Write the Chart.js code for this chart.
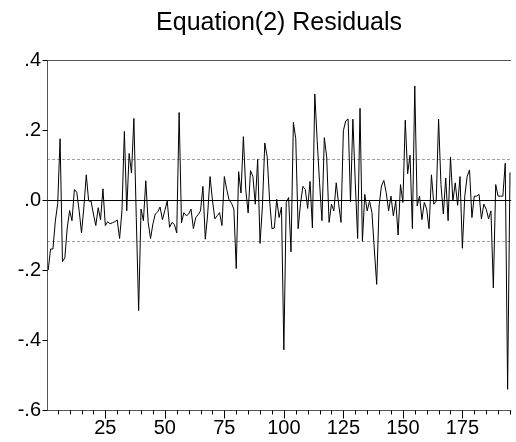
<!DOCTYPE html>
<html>
<head>
<meta charset="utf-8">
<script src="https://cdn.jsdelivr.net/npm/chart.js@4.4.0/dist/chart.umd.min.js"></script>
<style>
html, body { margin: 0; padding: 0; background: #fff; }
#wrap { width: 516px; height: 442px; }
</style>
</head>
<body>
<div id="wrap"><canvas id="chart_Resid" width="516" height="442"></canvas></div>
<script>
// residuals, obs 1..195
var residuals = [
  -0.200, -0.140, -0.140, -0.060, -0.010,  0.175, -0.176, -0.165, -0.080, -0.030,
  -0.059,  0.030,  0.022, -0.030, -0.094, -0.020,  0.072, -0.003, -0.003, -0.040,
  -0.073, -0.022, -0.056,  0.032, -0.073, -0.062, -0.068, -0.065, -0.062, -0.057,
  -0.110, -0.030,  0.196, -0.031,  0.133,  0.077,  0.233, -0.050, -0.316, -0.026,
  -0.059,  0.055, -0.064, -0.110, -0.068, -0.040, -0.034, -0.020, -0.056, -0.030,
  -0.003, -0.078, -0.064, -0.070, -0.094,  0.250, -0.065, -0.036, -0.045, -0.040,
  -0.026, -0.082, -0.050, -0.042, -0.031,  0.039, -0.112, -0.040,  0.067,  0.000,
  -0.054, -0.045, -0.036, -0.073,  0.067,  0.030,  0.000, -0.009, -0.026, -0.196,
   0.081,  0.020,  0.181,  0.030, -0.037,  0.084,  0.067, -0.012,  0.116, -0.124,
  -0.017,  0.163,  0.123,  0.000, -0.082, -0.080,  0.002, -0.050, -0.020, -0.428,
  -0.007,  0.007, -0.148,  0.222,  0.175, -0.082, -0.010,  0.039,  0.030, -0.024,
   0.053, -0.080,  0.303,  0.170,  0.050, -0.059,  0.178,  0.123, -0.064, -0.012,
  -0.031,  0.049, -0.010, -0.064,  0.198,  0.226,  0.231, -0.006,  0.231,  0.050,
  -0.110,  0.262, -0.118,  0.016, -0.031, -0.003, -0.036, -0.140, -0.241, -0.017,
   0.040,  0.056,  0.021, -0.031,  0.011, -0.045, -0.003, -0.100,  0.044, -0.007,
   0.228,  0.075,  0.128, -0.082,  0.326, -0.017,  0.011, -0.056, -0.007, -0.026,
  -0.082,  0.072, -0.012, -0.003,  0.231,  0.044, -0.040,  0.063, -0.059,  0.123,
  -0.003,  0.049, -0.015,  0.067, -0.138,  0.011,  0.067,  0.086, -0.050,  0.011,
   0.011,  0.016, -0.054, -0.012, -0.026, -0.054, -0.031, -0.251,  0.044,  0.011,
   0.011,  0.011,  0.105, -0.541,  0.079
];
var bandLevels = [0.116, -0.116];
var yTickValues = [0.4, 0.2, 0, -0.2, -0.4, -0.6];
var xLabelValues = [25, 50, 75, 100, 125, 150, 175];
var xMinorTicks = [5,10,15,20,25,30,35,40,45,50,55,60,65,70,75,80,85,90,95,100,
  105,110,115,120,125,130,135,140,145,150,155,160,165,170,175,180,185,190,195];
var chartTitle = 'Equation(2) Residuals';

var FONT = "'Liberation Sans', Arial, Helvetica, sans-serif";

function fmtY(v) {
  if (Math.abs(v) < 1e-9) return '.0';
  var s = Math.abs(v).toFixed(1).replace(/^0/, '');
  return (v < 0 ? '-' : '') + s;
}

var residFrame = {
  id: 'residFrame',
  beforeDatasetsDraw: function (chart) {
    var ctx = chart.ctx, a = chart.chartArea, ys = chart.scales.y;
    ctx.save();
    ctx.lineWidth = 1;
    ctx.strokeStyle = '#a0a0a0';
    ctx.setLineDash([3, 2]);
    bandLevels.forEach(function (v) {
      var py = Math.round(ys.getPixelForValue(v)) + 0.5;
      ctx.beginPath(); ctx.moveTo(a.left, py); ctx.lineTo(a.right, py); ctx.stroke();
    });
    ctx.setLineDash([]);
    ctx.strokeStyle = '#000';
    var p0 = Math.round(ys.getPixelForValue(0)) + 0.5;
    ctx.beginPath(); ctx.moveTo(a.left, p0); ctx.lineTo(a.right, p0); ctx.stroke();
    ctx.restore();
  },
  afterDraw: function (chart) {
    var ctx = chart.ctx, a = chart.chartArea, xs = chart.scales.x, ys = chart.scales.y;
    ctx.save();
    // title, centred over the plot box like EViews does
    ctx.fillStyle = '#000';
    ctx.font = '25px ' + FONT;
    ctx.textAlign = 'center';
    ctx.textBaseline = 'middle';
    ctx.fillText(chartTitle, (a.left + a.right) / 2, 23);

    ctx.lineWidth = 1;
    ctx.strokeStyle = '#555';
    var L = Math.round(a.left) + 0.5, T = Math.round(a.top) + 0.5, B = Math.round(a.bottom) + 0.5;
    ctx.beginPath();
    ctx.moveTo(a.right, T); ctx.lineTo(L, T); ctx.lineTo(L, B); ctx.lineTo(a.right, B);
    ctx.stroke();
    ctx.strokeStyle = '#000';
    ctx.beginPath();
    yTickValues.forEach(function (v) {
      var py = Math.round(ys.getPixelForValue(v)) + 0.5;
      ctx.moveTo(L - 5, py); ctx.lineTo(L, py);
    });
    xMinorTicks.forEach(function (v) {
      var px = Math.round(xs.getPixelForValue(v)) + 0.5;
      var len = xLabelValues.indexOf(v) >= 0 ? 8 : 4;
      ctx.moveTo(px, B); ctx.lineTo(px, B + len);
    });
    ctx.stroke();
    ctx.restore();
  }
};

new Chart(document.getElementById('chart_Resid'), {
  type: 'line',
  data: {
    datasets: [{
      label: 'Residuals',
      data: residuals.map(function (v, i) { return { x: i + 1, y: v }; }),
      borderColor: '#000',
      borderWidth: 1,
      pointRadius: 0,
      tension: 0,
      fill: false
    }]
  },
  options: {
    responsive: false,
    animation: false,
    devicePixelRatio: 1,
    layout: { padding: { top: 60, left: 0, right: 1, bottom: 0 } },
    plugins: {
      legend: { display: false },
      tooltip: { enabled: false },
      title: { display: false }
    },
    scales: {
      x: {
        type: 'linear',
        min: 0.5,
        max: 195.5,
        grid: { display: false, drawTicks: false },
        border: { display: false },
        afterBuildTicks: function (s) {
          s.ticks = xMinorTicks.map(function (v) { return { value: v }; });
        },
        afterFit: function (s) { s.height = 32; },
        ticks: {
          autoSkip: false,
          maxRotation: 0,
          padding: 6,
          color: '#000',
          font: { family: FONT, size: 20 },
          callback: function (v) { return xLabelValues.indexOf(v) >= 0 ? String(v) : ''; }
        }
      },
      y: {
        min: -0.6,
        max: 0.4,
        grid: { display: false, drawTicks: false },
        border: { display: false },
        afterBuildTicks: function (s) {
          s.ticks = yTickValues.map(function (v) { return { value: v }; });
        },
        afterFit: function (s) { s.width = 47; },
        ticks: {
          padding: 6,
          color: '#000',
          font: { family: FONT, size: 20 },
          callback: function (v) { return fmtY(v); }
        }
      }
    }
  },
  plugins: [residFrame]
});
</script>
</body>
</html>
